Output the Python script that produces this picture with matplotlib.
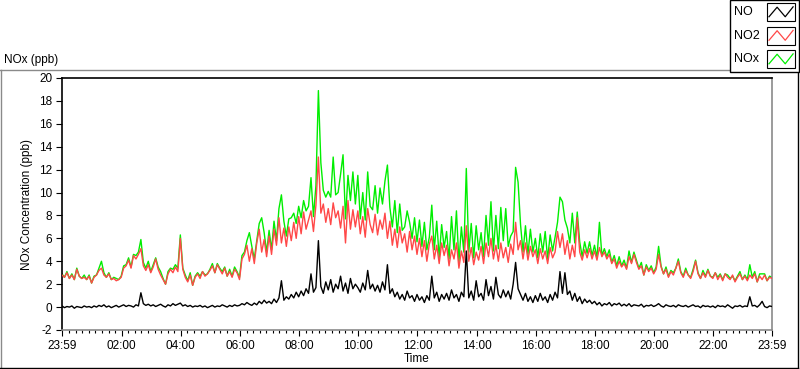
import numpy as np
import matplotlib
matplotlib.use("Agg")
import matplotlib.pyplot as plt
from matplotlib.lines import Line2D
from matplotlib.patches import Rectangle
from matplotlib.text import Text
from matplotlib.legend_handler import HandlerBase

plt.rcParams['font.family'] = ['Liberation Sans', 'DejaVu Sans']

# ---- data: 5-minute samples, minutes after 23:59 ----
step_min = 5
no2_ppb = [
    2.8, 2.6, 3.0, 2.5, 2.8, 2.4, 3.3, 2.7, 2.5, 2.6, 2.4, 2.7,
    2.1, 2.6, 2.8, 3.2, 3.4, 2.8, 2.6, 2.9, 2.4, 2.5, 2.3, 2.4,
    2.6, 3.4, 3.6, 4.1, 3.4, 4.5, 4.2, 4.6, 5.1, 3.6, 3.2, 3.7,
    3.0, 3.5, 4.2, 3.3, 2.8, 2.4, 2.0, 2.9, 3.3, 3.0, 3.5, 3.1,
    6.0, 3.3, 2.6, 2.2, 2.8, 1.9, 2.6, 2.9, 2.5, 3.1, 2.7, 2.9,
    3.2, 3.6, 3.0, 3.7, 3.3, 2.9, 3.4, 2.7, 3.1, 2.6, 3.3, 3.0,
    2.4, 4.2, 4.6, 5.4, 4.0, 5.1, 3.8, 5.6, 6.8, 4.8, 5.9, 4.4,
    6.2, 4.6, 6.8, 5.4, 7.8, 5.6, 6.9, 5.3, 7.0, 5.8, 7.4, 6.0,
    7.9, 6.4, 8.3, 6.8, 7.6, 8.4, 6.6, 8.9, 13.1, 8.2, 9.0, 7.4,
    8.6, 7.2, 9.1, 7.8, 8.4, 6.9, 8.8, 5.6, 9.3, 6.8, 8.5, 7.0,
    8.4, 6.4, 7.9, 6.1, 8.6, 7.2, 6.5, 8.1, 6.3, 7.6, 6.8, 8.2,
    6.0, 7.5, 5.4, 6.8, 5.2, 7.0, 5.6, 6.4, 4.8, 6.6, 5.0, 6.2,
    4.6, 6.0, 4.4, 5.8, 4.0, 5.5, 6.2, 4.2, 5.4, 3.8, 5.6, 4.5,
    5.4, 3.6, 5.0, 4.2, 5.6, 3.4, 4.9, 3.9, 7.1, 4.0, 5.2, 3.7,
    4.8, 4.1, 5.3, 3.8, 5.6, 4.4, 6.0, 4.2, 5.4, 4.0, 5.6, 4.3,
    5.2, 3.9, 5.5, 4.6, 7.4, 5.0, 5.8, 4.2, 5.6, 4.1, 5.3, 4.4,
    5.0, 3.8, 5.1, 4.2, 4.9, 3.8, 5.2, 4.3, 4.8, 6.6, 5.2, 6.4,
    4.6, 5.8, 4.2, 5.4, 4.4, 7.8, 4.8, 4.1, 5.0, 4.3, 5.1, 4.2,
    4.9, 4.1, 5.2, 4.4, 4.8, 4.2, 4.6, 3.8, 4.2, 3.4, 4.0, 3.5,
    3.8, 3.3, 4.4, 3.8, 4.6, 3.9, 3.3, 3.6, 2.8, 3.5, 3.1, 3.4,
    2.9, 3.3, 4.6, 3.5, 2.9, 3.3, 2.6, 3.1, 2.8, 3.4, 4.0, 3.0,
    2.6, 3.2, 2.8, 2.5, 3.1, 4.0, 2.9, 2.5, 3.0, 2.6, 3.2, 2.7,
    2.5, 3.0, 2.4, 2.8, 2.3, 2.9, 2.6, 2.4, 2.8, 2.2, 2.6, 2.9,
    2.4, 2.7, 2.3, 2.8, 2.5, 2.9, 2.2, 2.7, 2.4, 2.8, 2.3, 2.6, 2.5,
]
no_ppb = [
    0.1, -0.05, 0.05, 0.0, 0.1, -0.1, 0.05, 0.0, -0.05, 0.1, 0.0, 0.05,
    -0.05, 0.1, 0.0, 0.15, 0.05, 0.2, 0.0, 0.1, -0.05, 0.05, 0.15, 0.0,
    0.1, 0.2, 0.05, 0.15, 0.1, 0.0, 0.2, 0.1, 1.25, 0.3, 0.15, 0.25,
    0.1, 0.2, 0.05, 0.15, 0.25, 0.1, 0.0, 0.2, 0.1, 0.3, 0.15, 0.25,
    0.35, 0.1, 0.2, 0.05, 0.15, 0.0, 0.1, 0.05, 0.15, 0.0, 0.1, -0.05,
    0.05, 0.15, 0.0, 0.1, 0.05, 0.2, 0.1, 0.0, 0.15, 0.05, 0.2, 0.1,
    0.15, 0.3, 0.2, 0.4, 0.25, 0.15, 0.35, 0.2, 0.5, 0.3, 0.6, 0.35,
    0.5, 0.3, 0.7, 0.4, 0.8, 2.3, 0.6, 0.9, 0.7, 1.1, 0.8, 1.3,
    0.9, 1.4, 1.0, 1.6, 1.2, 2.9, 1.3, 1.7, 5.8, 1.8, 1.2, 2.2,
    1.5, 2.4, 1.3, 2.0, 1.6, 2.7, 1.4, 2.1, 1.2, 2.5, 1.6, 2.0,
    1.7, 1.3, 2.1, 1.5, 3.2, 1.6, 2.0, 1.4, 1.9, 1.3, 2.2, 1.5,
    3.7, 1.2, 1.6, 0.9, 1.3, 0.7, 1.1, 0.6, 1.4, 0.8, 1.0, 0.5,
    1.1, 0.6, 0.9, 0.4, 1.0, 0.6, 2.7, 0.8, 1.3, 0.5, 1.1, 0.7,
    1.2, 0.6, 1.5, 0.8, 1.1, 0.5, 1.3, 0.9, 4.9, 0.8, 1.4, 0.6,
    2.3, 0.9, 1.2, 0.6, 2.4, 1.0, 1.8, 0.7, 2.6, 1.1, 0.8, 1.5,
    0.9, 1.4, 0.7, 2.0, 3.9, 1.6, 1.1, 0.6, 1.2, 0.5, 0.9, 0.4,
    1.0, 0.5, 1.2, 0.6, 0.9, 0.4, 1.1, 0.6, 1.3, 0.8, 3.1, 1.2,
    3.0, 1.1, 1.4, 0.6, 1.2, 0.5, 0.9, 0.3, 0.7, 0.4, 0.6, 0.3,
    0.5, 0.2, 0.4, 0.1, 0.3, 0.2, 0.4, 0.1, 0.3, 0.2, 0.35, 0.1,
    0.25, 0.1, 0.3, 0.05, 0.2, 0.15, 0.1, 0.25, 0.0, 0.15, 0.1, 0.2,
    0.05, 0.15, 0.3, 0.1, 0.0, 0.2, 0.1, 0.05, 0.15, 0.0, 0.2, 0.1,
    0.05, 0.15, 0.0, 0.1, 0.2, 0.05, 0.1, -0.05, 0.15, 0.05, 0.1, 0.0,
    0.1, -0.05, 0.15, 0.05, 0.1, 0.0, 0.2, 0.05, -0.1, 0.1, 0.05, 0.15,
    0.0, 0.1, 0.05, 0.9, 0.1, 0.15, 0.0, 0.2, 0.5, 0.05, -0.05, 0.1, 0.05,
]
nox_ppb = [
    2.9, 2.6, 3.1, 2.5, 2.9, 2.4, 3.4, 2.7, 2.5, 2.8, 2.4, 2.8,
    2.1, 2.7, 2.8, 3.4, 4.0, 3.0, 2.6, 3.0, 2.4, 2.6, 2.5, 2.4,
    2.7, 3.6, 3.7, 4.3, 3.5, 4.6, 4.5, 4.8, 5.9, 3.9, 3.4, 4.0,
    3.1, 3.7, 4.3, 3.5, 3.1, 2.5, 2.0, 3.1, 3.4, 3.3, 3.7, 3.4,
    6.3, 3.4, 2.8, 2.3, 3.0, 1.9, 2.7, 3.0, 2.7, 3.1, 2.8, 2.9,
    3.3, 3.8, 3.0, 3.8, 3.4, 3.1, 3.5, 2.7, 3.3, 2.7, 3.5, 3.1,
    2.6, 4.5, 4.8, 5.8, 6.5, 5.3, 4.2, 5.8, 7.3, 7.8, 6.5, 4.8,
    6.7, 5.0, 7.5, 5.8, 8.6, 9.8, 7.5, 6.2, 7.7, 7.8, 8.2, 7.3,
    8.8, 7.8, 9.3, 8.4, 8.8, 11.3, 7.9, 10.6, 18.9, 12.6, 10.2, 9.6,
    10.1, 9.6, 13.1, 9.8, 10.0, 11.6, 13.3, 7.7, 11.5, 9.3, 11.8, 9.0,
    11.5, 7.7, 10.0, 7.6, 11.8, 8.8, 8.5, 10.6, 8.2, 10.4, 9.0, 11.0,
    12.4, 8.7, 7.0, 9.3, 6.5, 9.0, 6.7, 7.0, 8.4, 7.4, 6.0, 7.8,
    5.7, 7.6, 5.3, 7.4, 5.0, 6.1, 8.9, 5.0, 7.5, 4.3, 7.2, 5.2,
    6.6, 4.2, 7.9, 5.0, 8.4, 3.9, 7.0, 4.8, 12.1, 4.8, 7.3, 4.3,
    7.1, 5.0, 6.5, 4.4, 8.0, 5.4, 9.2, 4.9, 8.0, 5.1, 8.7, 5.8,
    8.6, 5.3, 6.2, 6.6, 12.2, 10.9, 7.2, 4.8, 7.1, 4.6, 6.8, 4.8,
    6.0, 4.3, 6.4, 4.8, 6.6, 4.2, 6.3, 4.9, 6.1, 7.4, 9.6, 9.2,
    7.6, 6.9, 5.6, 8.2, 5.6, 8.3, 5.7, 4.4, 5.7, 4.7, 5.7, 4.5,
    5.4, 4.3, 7.4, 4.5, 5.1, 4.4, 5.0, 3.9, 4.5, 3.6, 4.4, 3.6,
    4.1, 3.4, 4.9, 3.9, 4.8, 4.1, 3.4, 3.9, 2.8, 3.7, 3.2, 3.6,
    3.0, 3.5, 5.3, 3.6, 2.9, 3.5, 2.7, 3.2, 3.0, 3.4, 4.2, 3.1,
    2.7, 3.4, 2.8, 2.6, 3.3, 4.1, 3.0, 2.5, 3.2, 2.7, 3.3, 2.7,
    2.6, 3.0, 2.6, 2.9, 2.4, 2.9, 2.8, 2.5, 2.7, 2.3, 2.7, 3.1,
    2.4, 2.8, 2.4, 3.7, 2.6, 3.1, 2.2, 2.9, 2.9, 2.9, 2.3, 2.7, 2.6,
]
series_names = ["NO", "NO2", "NOx"]
series_colors = ["#000000", "#ff4848", "#00ee00"]
x_tick_labels = ["23:59", "02:00", "04:00", "06:00", "08:00", "10:00", "12:00",
                 "14:00", "16:00", "18:00", "20:00", "22:00", "23:59"]
y_ticks = list(range(-2, 21, 2))

assert len(no2_ppb) == len(no_ppb) == len(nox_ppb) == 289
t = np.arange(len(no2_ppb)) * step_min

# ---- figure ----
W, H = 800, 369
fig = plt.figure(figsize=(W / 100, H / 100), dpi=100)
fig.patch.set_facecolor("white")

L, R, T, B = 62, 772, 78, 330
ax = fig.add_axes([L / W, 1 - B / H, (R - L) / W, (B - T) / H])

l_nox, = ax.plot(t, nox_ppb, color=series_colors[2], lw=1.0, zorder=2, label=series_names[2])
l_no2, = ax.plot(t, no2_ppb, color=series_colors[1], lw=1.0, zorder=3, label=series_names[1])
l_no, = ax.plot(t, no_ppb, color=series_colors[0], lw=1.0, zorder=4, label=series_names[0])

ax.set_xlim(0, 1440)
ax.set_ylim(-2, 20)

def to_min(lbl, i, n):
    if i == n - 1:
        return 1440
    hh, mm = map(int, lbl.split(":"))
    return ((hh * 60 + mm) - (23 * 60 + 59)) % 1440

major = [to_min(l, i, len(x_tick_labels)) for i, l in enumerate(x_tick_labels)]
minor = []
for a, b in zip(major[:-1], major[1:]):
    for k in range(1, 9):
        minor.append(b - k * 120 / 9)
ax.set_xticks(major)
ax.set_xticklabels(x_tick_labels)
ax.set_xticks(minor, minor=True)
ax.set_yticks(y_ticks)
ax.set_yticklabels([str(v) for v in y_ticks])

ax.tick_params(axis="both", which="major", direction="out", length=4.5, width=0.8,
               color="black", labelsize=8.5, pad=2.5)
ax.tick_params(axis="x", which="minor", direction="out", length=2.5, width=0.8, color="black")

for side in ["top", "left"]:
    ax.spines[side].set_color("black")
    ax.spines[side].set_linewidth(1.2)
for side in ["right", "bottom"]:
    ax.spines[side].set_color("#8a8a8a")
    ax.spines[side].set_linewidth(1.2)

ax.set_xlabel("Time", fontsize=8.5, labelpad=1)
ax.set_ylabel("NOx Concentration (ppb)", fontsize=8.5, labelpad=4)

fig.text(4 / W, 1 - 60 / H, "NOx (ppb)", fontsize=8.5, va="center", ha="left")

# outer frame
def fline(x0, y0, x1, y1, color, lw=1.0):
    fig.add_artist(Line2D([x0 / W, x1 / W], [1 - y0 / H, 1 - y1 / H],
                          transform=fig.transFigure, color=color, lw=lw))

fline(0, 69.5, 730, 69.5, "#8a8a8a")
fline(0.8, 69.5, 0.8, 368, "#8a8a8a")
fline(0, 367.5, 797.5, 367.5, "black")
fline(797.5, 72, 797.5, 368, "black")

# legend: left-aligned name, then a boxed zigzag sample on the right
BOX_W_PX = 28.0
LEG_FS = 9

class ZigHandler(HandlerBase):
    def create_artists(self, legend, orig_handle, xdescent, ydescent, width, height, fontsize, trans):
        x0, y0 = -xdescent, -ydescent
        bw = BOX_W_PX * 72 / 100  # points
        bx = x0 + width - bw
        rect = Rectangle((bx, y0), bw, height, facecolor="white", edgecolor="black",
                         lw=0.8, transform=trans)
        fx = [0.08, 0.37, 0.66, 0.94]
        fy = [0.25, 0.78, 0.25, 0.8]
        line = Line2D([bx + f * bw for f in fx], [y0 + f * height for f in fy],
                      color=orig_handle.get_color(), lw=0.9, transform=trans)
        txt = Text(x0 + 0.5, y0 + height / 2, orig_handle.get_label(), fontsize=fontsize,
                   ha="left", va="center", transform=trans, color="black")
        return [rect, line, txt]

leg = fig.legend([l_no, l_no2, l_nox], ["", "", ""],
                 handler_map={Line2D: ZigHandler()},
                 loc="upper right", bbox_to_anchor=(798.5 / W, 1 + 0.5 / H),
                 bbox_transform=fig.transFigure,
                 fontsize=LEG_FS, frameon=True, fancybox=False,
                 edgecolor="black", framealpha=1, borderpad=0.3,
                 handlelength=4.9, handleheight=1.84, labelspacing=0.44,
                 handletextpad=0.0, borderaxespad=0)
leg.get_frame().set_linewidth(1.0)

fig.savefig("out.png", dpi=100, facecolor="white")
